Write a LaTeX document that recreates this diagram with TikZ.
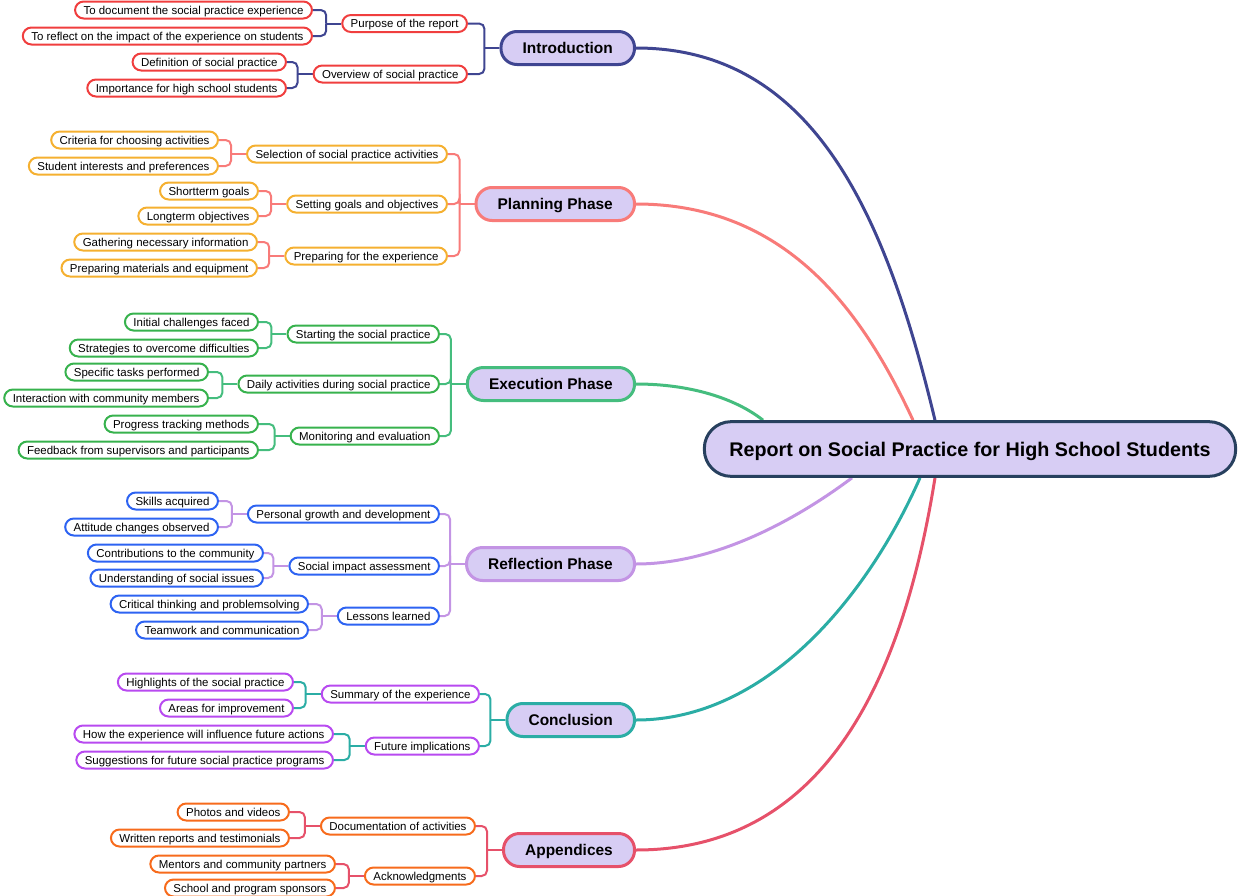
\documentclass[tikz,border=0pt]{standalone}
\usepackage{fontspec}
\setmainfont{Liberation Sans}
\usetikzlibrary{backgrounds}

\definecolor{rootline}{HTML}{27405E}
\definecolor{topicfill}{HTML}{D7CDF4}
\definecolor{introline}{HTML}{3F4591}
\definecolor{introitem}{HTML}{F03E3E}
\definecolor{planline}{HTML}{F87B79}
\definecolor{planitem}{HTML}{F5B030}
\definecolor{execline}{HTML}{45BD7E}
\definecolor{execitem}{HTML}{37B24D}
\definecolor{reflline}{HTML}{C394E4}
\definecolor{reflitem}{HTML}{2D63F2}
\definecolor{conclline}{HTML}{2BADA5}
\definecolor{conclitem}{HTML}{B84AF0}
\definecolor{appline}{HTML}{E6516A}
\definecolor{appitem}{HTML}{F76B1C}

\tikzset{
  rootbox/.style={draw=rootline, fill=topicfill, line width=2.25pt, rounded corners=20pt,
    minimum height=41pt, inner xsep=18.75pt, text height=10.6pt, text depth=0pt,
    font=\fontsize{14.8}{17}\selectfont\bfseries},
  topic/.style={fill=topicfill, line width=2.25pt, rounded corners=12pt, anchor=east,
    minimum height=24.75pt, inner xsep=16.25pt, text height=8.3pt, text depth=0pt,
    font=\fontsize{11.6}{14}\selectfont\bfseries},
  item/.style={fill=white, line width=1.5pt, rounded corners=6.5pt, anchor=east,
    minimum height=12.75pt, inner xsep=6.4pt, inner ysep=0pt, text height=6.2pt, text depth=0pt,
    font=\fontsize{8.6}{10}\selectfont},
  trunk/.style={line width=2.25pt},
  con/.style={line width=1.5pt}
}

% bracket from a parent to its children
\newcommand{\branchfork}[3]{%
  \draw[con, #3] (#1.west) -- ++(-15,0) coordinate (#1-e);
  \foreach \c in {#2} \draw[con, #3, rounded corners=4pt] (\c.east) -| (#1-e);
}

\begin{document}
\begin{tikzpicture}[x=0.75pt, y=-0.75pt]
\useasboundingbox (0,0) rectangle (1240,896);

\node[rootbox] (root) at (970,449) {Report on Social Practice for High School Students};

% Introduction
\node[topic, draw=introline] (intro) at (636,48) {Introduction};
\begin{scope}[every node/.style={item, draw=introitem}]
\node (purpose) at (468,23.5) {Purpose of the report};
\node (overview) at (468,74) {Overview of social practice};
\node (document) at (313,10) {To document the social practice experience};
\node (reflect) at (313,36) {To reflect on the impact of the experience on students};
\node (definition) at (287,62) {Definition of social practice};
\node (importance) at (287,88) {Importance for high school students};
\end{scope}

% Planning Phase
\node[topic, draw=planline] (planning) at (636,204) {Planning Phase};
\begin{scope}[every node/.style={item, draw=planitem}]
\node (selection) at (448,154) {Selection of social practice activities};
\node (goals) at (448,204) {Setting goals and objectives};
\node (preparing) at (448,256) {Preparing for the experience};
\node (criteria) at (219,140) {Criteria for choosing activities};
\node (interests) at (219,166) {Student interests and preferences};
\node (shortterm) at (259,191) {Shortterm goals};
\node (longterm) at (259,216) {Longterm objectives};
\node (gathering) at (258,242) {Gathering necessary information};
\node (materials) at (258,268) {Preparing materials and equipment};
\end{scope}

% Execution Phase
\node[topic, draw=execline] (execution) at (636,384) {Execution Phase};
\begin{scope}[every node/.style={item, draw=execitem}]
\node (starting) at (440,334) {Starting the social practice};
\node (daily) at (440,384) {Daily activities during social practice};
\node (monitoring) at (440,436) {Monitoring and evaluation};
\node (challenges) at (259,322) {Initial challenges faced};
\node (strategies) at (259,348) {Strategies to overcome difficulties};
\node (tasks) at (209,372) {Specific tasks performed};
\node (interaction) at (209,398) {Interaction with community members};
\node (tracking) at (259,424) {Progress tracking methods};
\node (feedback) at (259,450) {Feedback from supervisors and participants};
\end{scope}

% Reflection Phase
\node[topic, draw=reflline] (reflection) at (636,564) {Reflection Phase};
\begin{scope}[every node/.style={item, draw=reflitem}]
\node (growth) at (440,514) {Personal growth and development};
\node (impact) at (440,566) {Social impact assessment};
\node (lessons) at (440,616) {Lessons learned};
\node (skills) at (219,501) {Skills acquired};
\node (attitude) at (219,527) {Attitude changes observed};
\node (contrib) at (264,553) {Contributions to the community};
\node (issues) at (264,578) {Understanding of social issues};
\node (critical) at (309,604) {Critical thinking and problemsolving};
\node (teamwork) at (309,630) {Teamwork and communication};
\end{scope}

% Conclusion
\node[topic, draw=conclline] (conclusion) at (636,720) {Conclusion};
\begin{scope}[every node/.style={item, draw=conclitem}]
\node (summary) at (480,694) {Summary of the experience};
\node (future) at (480,746) {Future implications};
\node (highlights) at (294,682) {Highlights of the social practice};
\node (areas) at (294,708) {Areas for improvement};
\node (influence) at (334,734) {How the experience will influence future actions};
\node (suggest) at (334,760) {Suggestions for future social practice programs};
\end{scope}

% Appendices
\node[topic, draw=appline] (appendices) at (636,850) {Appendices};
\begin{scope}[every node/.style={item, draw=appitem}]
\node (documentation) at (476,826) {Documentation of activities};
\node (acknow) at (476,876) {Acknowledgments};
\node (photos) at (290,812) {Photos and videos};
\node (written) at (290,838) {Written reports and testimonials};
\node (mentors) at (336,864) {Mentors and community partners};
\node (sponsors) at (336,888) {School and program sponsors};
\end{scope}

\begin{scope}[on background layer]
\draw[trunk, introline] (intro.east) .. controls +(180,0) and +(-48,-200) .. ([shift={(-35,0)}]root.north);
\draw[trunk, planline] (planning.east) .. controls +(150,0) and +(-51,-110) .. ([shift={(-57,0)}]root.north);
\draw[trunk, execline] (execution.east) .. controls +(54,0) and +(-28,-22) .. ([shift={(-207,0)}]root.north);
\draw[trunk, reflline] (reflection.east) .. controls +(90,0) and +(-40,30) .. ([shift={(-118,0)}]root.south);
\draw[trunk, conclline] (conclusion.east) .. controls +(130,0) and +(-53,120) .. ([shift={(-50,0)}]root.south);
\draw[trunk, appline] (appendices.east) .. controls +(190,0) and +(-32,200) .. ([shift={(-35,0)}]root.south);

\branchfork{intro}{purpose,overview}{introline}
\branchfork{purpose}{document,reflect}{introline}
\branchfork{overview}{definition,importance}{introline}
\branchfork{planning}{selection,goals,preparing}{planline}
\branchfork{selection}{criteria,interests}{planline}
\branchfork{goals}{shortterm,longterm}{planline}
\branchfork{preparing}{gathering,materials}{planline}
\branchfork{execution}{starting,daily,monitoring}{execline}
\branchfork{starting}{challenges,strategies}{execline}
\branchfork{daily}{tasks,interaction}{execline}
\branchfork{monitoring}{tracking,feedback}{execline}
\branchfork{reflection}{growth,impact,lessons}{reflline}
\branchfork{growth}{skills,attitude}{reflline}
\branchfork{impact}{contrib,issues}{reflline}
\branchfork{lessons}{critical,teamwork}{reflline}
\branchfork{conclusion}{summary,future}{conclline}
\branchfork{summary}{highlights,areas}{conclline}
\branchfork{future}{influence,suggest}{conclline}
\branchfork{appendices}{documentation,acknow}{appline}
\branchfork{documentation}{photos,written}{appline}
\branchfork{acknow}{mentors,sponsors}{appline}
\end{scope}
\end{tikzpicture}
\end{document}
